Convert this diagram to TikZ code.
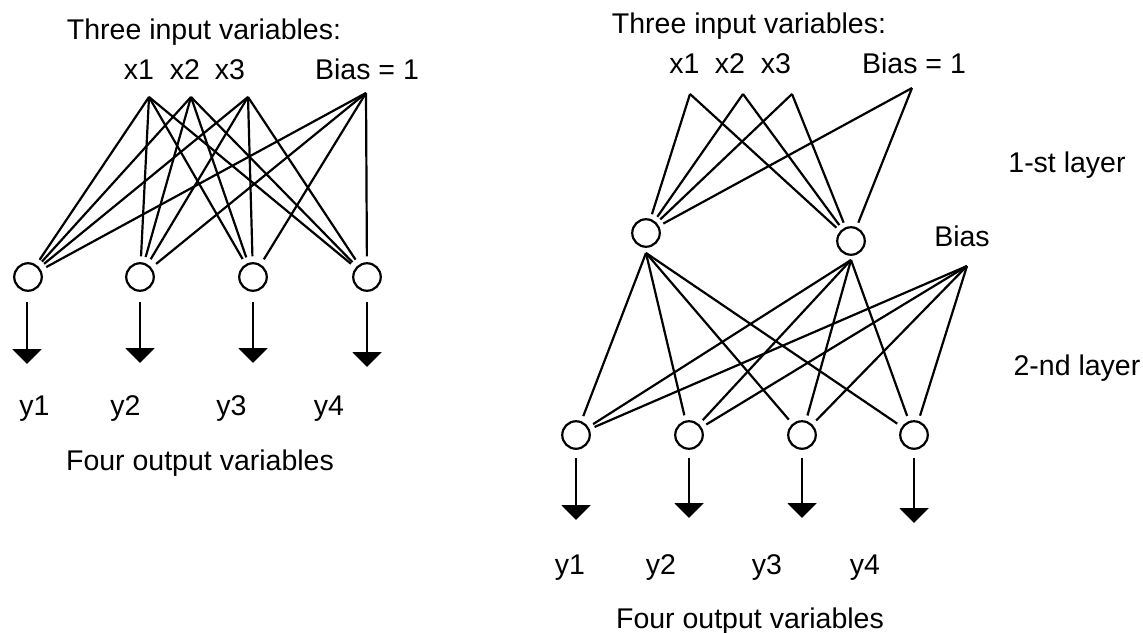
\documentclass[tikz,border=0pt]{standalone}
\usepackage{fontspec}
\setmainfont{Liberation Sans}
\usetikzlibrary{arrows.meta}
\begin{document}
\begin{tikzpicture}[x=1pt,y=-1pt,
  neuron/.style={circle,draw,line width=2.2pt,minimum size=27.5pt,inner sep=0pt,outer sep=0pt},
  conn/.style={line width=2.2pt},
  toneuron/.style={conn,shorten >=7pt},
  outarrow/.style={line width=2.2pt,-{Triangle[length=15pt,width=29pt]}},
  lbl/.style={anchor=base,inner sep=0pt,font=\fontsize{28.5}{34}\selectfont}]
\useasboundingbox (0,0) rectangle (1143,632);

% ---------------- Left network ----------------
\node[lbl] (Ltitle) at (204,39) {Three input variables:};
\node[lbl] (Lx1t) at (139,79) {x1};
\node[lbl] (Lx2t) at (185,79) {x2};
\node[lbl] (Lx3t) at (230,79) {x3};
\node[lbl] (Lbt) at (367,79) {Bias = 1};

\coordinate (Lx1) at (149,97);
\coordinate (Lx2) at (191,97);
\coordinate (Lx3) at (248,97);
\coordinate (Lb) at (366,93);

\node[neuron] (L1) at (28,277) {};
\node[neuron] (L2) at (140,277) {};
\node[neuron] (L3) at (253,277) {};
\node[neuron] (L4) at (367,277) {};

\foreach \s in {Lx1,Lx2,Lx3,Lb}
  \foreach \t in {L1,L2,L3,L4}
    \draw[toneuron] (\s) -- (\t);

\coordinate (Lt1) at (27,364);
\coordinate (Lt2) at (140,363);
\coordinate (Lt3) at (253,363);
\coordinate (Lt4) at (367,367);
\draw[outarrow] ([yshift=-25pt,xshift=-1pt]L1.center) -- (Lt1);
\foreach \i in {2,3,4}
  \draw[outarrow] ([yshift=-25pt]L\i.center) -- (Lt\i);

\node[lbl] (Ly1) at (34.5,415) {y1};
\node[lbl] (Ly2) at (125.5,415) {y2};
\node[lbl] (Ly3) at (231.5,415) {y3};
\node[lbl] (Ly4) at (329,415) {y4};
\node[lbl] (Lout) at (200,470) {Four output variables};

% ---------------- Right network ----------------
\node[lbl] (Rtitle) at (749,33) {Three input variables:};
\node[lbl] (Rx1t) at (684.5,73) {x1};
\node[lbl] (Rx2t) at (730,73) {x2};
\node[lbl] (Rx3t) at (776,73) {x3};
\node[lbl] (Rbt) at (914,73) {Bias = 1};

\coordinate (Rx1) at (690,94);
\coordinate (Rx2) at (743,94);
\coordinate (Rx3) at (792,94);
\coordinate (Rb) at (912,88);

\node[neuron] (H1) at (646,233) {};
\node[neuron] (H2) at (851,241) {};

\foreach \s in {Rx1,Rx2,Rx3,Rb}
  \foreach \t in {H1,H2}
    \draw[conn,shorten >=6pt] (\s) -- (\t);

\node[lbl] (layer1) at (1067,172) {1-st layer};
\node[lbl] (Rb2t) at (962,246) {Bias};
\node[lbl] (layer2) at (1077,375) {2-nd layer};

\coordinate (H1s) at ([yshift=-20pt]H1.center);
\coordinate (H2s) at ([yshift=-19pt]H2.center);
\coordinate (Rb2) at (967,266);

\node[neuron] (O1) at (576,435) {};
\node[neuron] (O2) at (689,435) {};
\node[neuron] (O3) at (802,435) {};
\node[neuron] (O4) at (914,435) {};

\foreach \s in {H1s,H2s,Rb2}
  \foreach \t in {O1,O2,O3,O4}
    \draw[conn,shorten >=6.5pt] (\s) -- (\t);

\coordinate (Ot1) at (576,520);
\coordinate (Ot2) at (689,518);
\coordinate (Ot3) at (802,518);
\coordinate (Ot4) at (914,523);
\foreach \i in {1,2,3,4}
  \draw[outarrow] ([yshift=-23pt]O\i.center) -- (Ot\i);

\node[lbl] (Ry1) at (570,574) {y1};
\node[lbl] (Ry2) at (661,574) {y2};
\node[lbl] (Ry3) at (767,574) {y3};
\node[lbl] (Ry4) at (865,574) {y4};
\node[lbl] (Rout) at (750,628) {Four output variables};
\end{tikzpicture}
\end{document}
